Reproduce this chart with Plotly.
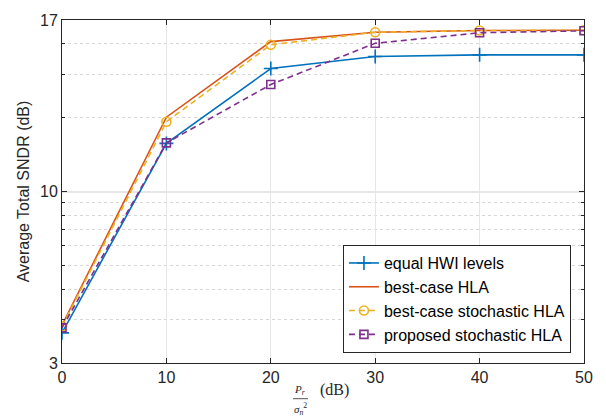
import numpy as np
import plotly.graph_objects as go

# Data (y in dB)
x_vals = [0, 10, 20, 30, 40, 50]
equal_hwi = [4.24, 11.96, 15.01, 15.50, 15.57, 15.57]
best_case_hla = [4.55, 13.03, 16.11, 16.49, 16.56, 16.57]
best_case_stoch = [4.50, 12.84, 15.98, 16.49, 16.56, 16.57]
proposed_stoch = [4.44, 11.98, 14.36, 16.04, 16.47, 16.55]

y_tick_vals = [10 * np.log10(2), 10.0, 10 * np.log10(50)]
y_tick_text = ["3", "10", "17"]
y_minor_vals = [10 * np.log10(k) for k in [3, 4, 5, 6, 7, 8, 9, 20, 30, 40]]
x_ticks = [0, 10, 20, 30, 40, 50]

W, H = 606, 418
L, R, T, B = 62, 22, 17, 55
ph = H - T - B
pw = W - L - R

def px_to_paper_y(py):
    return (H - B - py) / ph

def px_to_paper_x(px):
    return (px - L) / pw

fig = go.Figure()
fig.add_trace(go.Scatter(x=x_vals, y=equal_hwi, name="equal HWI levels", mode="lines+markers",
                         line=dict(color="#0072BD", width=1.6),
                         marker=dict(symbol="cross-thin", size=10, line=dict(color="#0072BD", width=1.6))))
fig.add_trace(go.Scatter(x=x_vals, y=best_case_hla, name="best-case HLA", mode="lines",
                         line=dict(color="#D95319", width=1.6)))
fig.add_trace(go.Scatter(x=x_vals, y=best_case_stoch, name="best-case stochastic HLA", mode="lines+markers",
                         line=dict(color="#EDB120", width=1.6, dash="6px,4px"),
                         marker=dict(symbol="circle-open", size=9, line=dict(color="#EDB120", width=1.6))))
fig.add_trace(go.Scatter(x=x_vals, y=proposed_stoch, name="proposed stochastic HLA", mode="lines+markers",
                         line=dict(color="#7E2F8E", width=1.6, dash="6px,4px"),
                         marker=dict(symbol="square-open", size=8, line=dict(color="#7E2F8E", width=1.6))))

sans = "Liberation Sans, Arial, sans-serif"
axis_common = dict(showline=True, linecolor="#262626", linewidth=1, mirror="ticks",
                   ticks="inside", tickcolor="#262626", ticklen=5, zeroline=False,
                   tickfont=dict(family=sans, size=16, color="#262626"))

fig.update_xaxes(range=[0, 50], tickvals=x_ticks, showgrid=True, gridcolor="#e6e6e6", gridwidth=1,
                 **axis_common)
fig.update_yaxes(range=[10 * np.log10(2), 10 * np.log10(50)], tickvals=y_tick_vals, ticktext=y_tick_text,
                 showgrid=True, gridcolor="#e6e6e6", gridwidth=1.5,
                 title=dict(text="Average Total SNDR (dB)", standoff=6,
                            font=dict(family=sans, size=16, color="#262626")),
                 minor=dict(tickvals=y_minor_vals, ticks="inside", ticklen=3, tickcolor="#262626",
                            showgrid=True, gridcolor="#d6d6d6", griddash="dot", gridwidth=1),
                 **axis_common)

serif = "Liberation Serif, Times New Roman, serif"
# x-axis label: fraction P_r / sigma_n^2 followed by (dB)
fig.add_annotation(xref="paper", yref="paper", x=px_to_paper_x(300), y=px_to_paper_y(398),
                   yanchor="bottom", text="<i>P</i><sub><i>r</i></sub>",
                   showarrow=False, borderpad=0,
                   font=dict(family=serif, size=11, color="#262626"))
fig.add_annotation(xref="paper", yref="paper", x=px_to_paper_x(300), y=px_to_paper_y(400),
                   yanchor="top", text="<i>σ</i><sub><i>n</i></sub><sup>2</sup>",
                   showarrow=False, borderpad=0,
                   font=dict(family=serif, size=11, color="#262626"))
fig.add_shape(type="line", xref="paper", yref="paper",
              x0=px_to_paper_x(293), x1=px_to_paper_x(308),
              y0=px_to_paper_y(399), y1=px_to_paper_y(399),
              line=dict(color="#262626", width=0.8))
fig.add_annotation(xref="paper", yref="paper", x=px_to_paper_x(334), y=px_to_paper_y(400),
                   text="(dB)", showarrow=False, borderpad=0,
                   font=dict(family=serif, size=16, color="#262626"))

fig.update_layout(
    width=W, height=H,
    margin=dict(l=L, r=R, t=T, b=B),
    paper_bgcolor="white", plot_bgcolor="white",
    showlegend=True,
    legend=dict(x=0.975, xanchor="right", y=0.029, yanchor="bottom",
                bgcolor="white", bordercolor="#262626", borderwidth=1,
                font=dict(family=sans, size=16, color="#000000"),
                tracegroupgap=0, itemwidth=30),
)

fig.write_html("out.html", config={"displayModeBar": False},
               post_script="document.body.style.margin='0';document.body.style.overflow='hidden';")
